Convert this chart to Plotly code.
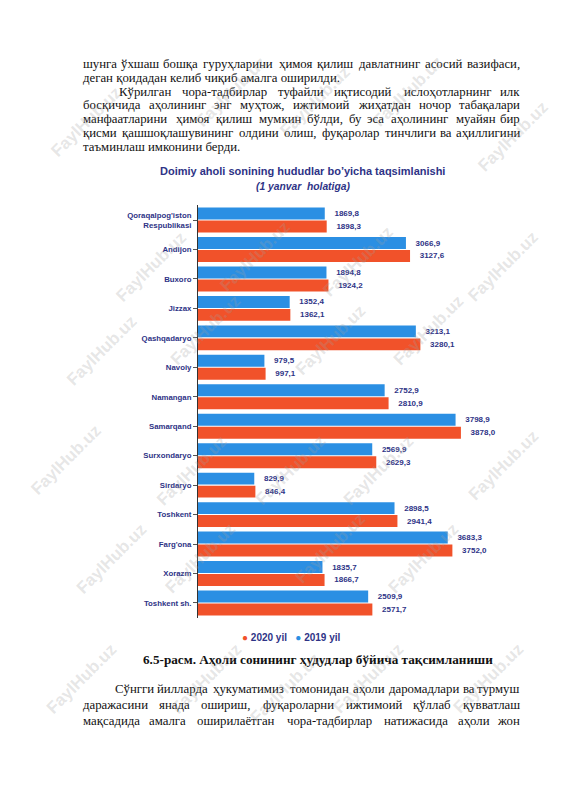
import plotly.graph_objects as go

# chart data (thousand people, as of 1 January)
regions = ["Qoraqalpog'iston<br>Respublikasi", "Andijon", "Buxoro", "Jizzax",
           "Qashqadaryo", "Navoiy", "Namangan", "Samarqand", "Surxondaryo",
           "Sirdaryo", "Toshkent", "Farg'ona", "Xorazm", "Toshkent sh."]
pop_2019 = [1869.8, 3066.9, 1894.8, 1352.4, 3213.1, 979.5, 2752.9,
            3798.9, 2569.9, 829.9, 2898.5, 3683.3, 1835.7, 2509.9]
pop_2020 = [1898.3, 3127.6, 1924.2, 1362.1, 3280.1, 997.1, 2810.9,
            3878.0, 2629.3, 846.4, 2941.4, 3752.0, 1866.7, 2571.7]

chart_title = "Doimiy aholi sonining hududlar bo’yicha taqsimlanishi"
chart_subtitle = "(1 yanvar\u00a0\u00a0holatiga)"
caption = "6.5-расм. Аҳоли сонининг ҳудудлар бўйича тақсимланиши"

# page text: (text, justified?, indented?)
top_lines = [
    ("шунга ўхшаш бошқа гуруҳларини ҳимоя қилиш давлатнинг асосий вазифаси,", True, False),
    ("деган қоидадан келиб чиқиб амалга оширилди.", False, False),
    ("Кўрилган чора-тадбирлар туфайли иқтисодий ислоҳотларнинг илк", True, True),
    ("босқичида аҳолининг энг муҳтож, ижтимоий жиҳатдан ночор табақалари", True, False),
    ("манфаатларини ҳимоя қилиш мумкин бўлди, бу эса аҳолининг муайян бир", True, False),
    ("қисми қашшоқлашувининг олдини олиш, фуқаролар тинчлиги ва аҳиллигини", True, False),
    ("таъминлаш имконини берди.", False, False),
]
bottom_lines = [
    ("Сўнгги йилларда ҳукуматимиз томонидан аҳоли даромадлари ва турмуш", True, True),
    ("даражасини янада ошириш, фуқароларни ижтимоий қўллаб қувватлаш", True, False),
    ("мақсадида амалга оширилаётган чора-тадбирлар натижасида аҳоли жон", True, False),
]

W, H = 565, 800
OFF = 8  # default body margin of the html page
BLUE = "#2b8fe3"
RED = "#f1522a"
NAVY = "#2e3386"
SERIF = "Liberation Serif"
SANS = "Liberation Sans"


def px(x):
    return (x - OFF) / W


def py(y):
    return 1 - (y - OFF) / H


def fmt(v):
    return f"{v:.1f}".replace(".", ",")


# approximate Times advance widths (em/1000), used to spread words on justified lines
TIMES = dict(zip("абвгдеёжзийклмнопрстуфхцчшщъыьэюяўқғҳ",
                 [444, 500, 472, 410, 500, 444, 444, 690, 395, 535, 535, 486, 496,
                  623, 535, 500, 535, 500, 444, 437, 500, 648, 500, 535, 513, 778,
                  778, 513, 694, 472, 444, 738, 486, 500, 486, 410, 500]))
TIMES.update({",": 250, ".": 250, "-": 333, ":": 278, ";": 278})


def word_width(word, size):
    w = sum(TIMES.get(ch, 680 if ch.isupper() else 500) for ch in word)
    return 1.05 * w * size / 1000


def text_lines(lines, y0, step, left=81, right=522, indent=36, size=12.8):
    anns = []
    for i, (line, justify, ind) in enumerate(lines):
        y = y0 + i * step
        x0 = left + (indent if ind else 0)
        words = line.split()
        if not justify:
            anns.append(dict(text=line, x=px(x0), y=py(y), xanchor="left"))
            continue
        widths = [word_width(w, size) for w in words]
        gap = (right - x0 - sum(widths)) / (len(words) - 1)
        x = x0
        last = len(words) - 1
        for j, (w, ww) in enumerate(zip(words, widths)):
            # middle words are centred so width errors spread to both sides
            if j == 0:
                anns.append(dict(text=w, x=px(x0), y=py(y), xanchor="left"))
            elif j == last:
                anns.append(dict(text=w, x=px(right), y=py(y), xanchor="right"))
            else:
                anns.append(dict(text=w, x=px(x + ww / 2), y=py(y), xanchor="center"))
            x += ww + gap
    for a in anns:
        a.update(xref="paper", yref="paper", yanchor="middle", showarrow=False,
                 font=dict(family=SERIF, size=size, color="#111111"))
    return anns


fig = go.Figure()

fig.add_trace(go.Bar(
    y=regions, x=pop_2019, orientation="h", name="2019 yil",
    marker=dict(color=BLUE, line=dict(width=0)),
    text=["\u00a0\u00a0\u00a0" + fmt(v) for v in pop_2019],
    textposition="outside", constraintext="none", cliponaxis=False,
    textfont=dict(family=SANS, size=8, color=NAVY, weight="bold"),
))
fig.add_trace(go.Bar(
    y=regions, x=pop_2020, orientation="h", name="2020 yil",
    marker=dict(color=RED, line=dict(width=0)),
    text=["\u00a0\u00a0\u00a0" + fmt(v) for v in pop_2020],
    textposition="outside", constraintext="none", cliponaxis=False,
    textfont=dict(family=SANS, size=8, color=NAVY, weight="bold"),
))

x_left, scale = 198, 0.0678
x_max = 4000
annotations = []
annotations += text_lines(top_lines, 64, 13.8)
annotations += text_lines(bottom_lines, 689, 15.8, indent=32)

annotations += [
    dict(text=f"<b>{chart_title}</b>", x=px(302), y=py(171),
         font=dict(family=SANS, size=11, color=NAVY)),
    dict(text=f"<b><i>{chart_subtitle}</i></b>", x=px(303), y=py(186),
         font=dict(family=SANS, size=10.3, color=NAVY)),
    dict(text=(f"<span style='color:{RED}'>●</span> <b>2020 yil</b>"
               f"\u00a0\u00a0\u00a0<span style='color:{BLUE}'>●</span> <b>2019 yil</b>"),
         x=px(291), y=py(637), font=dict(family=SANS, size=10, color=NAVY)),
    dict(text=f"<b>{caption}</b>", x=px(318), y=py(659),
         font=dict(family=SERIF, size=13.2, color="#111111")),
]
for a in annotations[-4:]:
    a.update(xref="paper", yref="paper", xanchor="center", yanchor="middle",
             showarrow=False)

# faint site watermarks
marks = [(45, 80), (190, 50), (315, 60), (450, 50), (555, 95),
         (110, 225), (255, 215), (400, 220), (545, 225),
         (60, 350), (205, 330), (330, 340), (470, 330),
         (25, 460), (150, 470), (290, 470), (420, 470), (545, 465),
         (70, 600), (200, 600), (330, 590), (465, 600),
         (40, 720), (165, 720), (285, 730), (410, 720), (530, 720)]
for mx, my in marks:
    annotations.append(dict(
        text="<b>FaylHub.uz</b>", x=px(mx), y=py(my), xref="paper", yref="paper",
        showarrow=False, textangle=-45,
        font=dict(family=SANS, size=17, color="rgba(160,160,160,0.27)")))

fig.update_layout(
    width=W, height=H,
    margin=dict(l=0, r=0, t=0, b=0),
    paper_bgcolor="white", plot_bgcolor="white",
    showlegend=False,
    barmode="group", bargap=0.12, bargroupgap=0.08,
    xaxis=dict(range=[0, x_max], visible=False, fixedrange=True,
               domain=[px(x_left), px(x_left + x_max * scale)]),
    yaxis=dict(autorange="reversed", showgrid=False, showline=True,
               linecolor="#333333", linewidth=1, ticks="outside", ticklen=4,
               tickcolor="#555555",
               tickfont=dict(family=SANS, size=7.8, color=NAVY, weight="bold"),
               domain=[py(617.7), py(205.3)]),
    annotations=annotations,
)

fig.write_html("out.html")
